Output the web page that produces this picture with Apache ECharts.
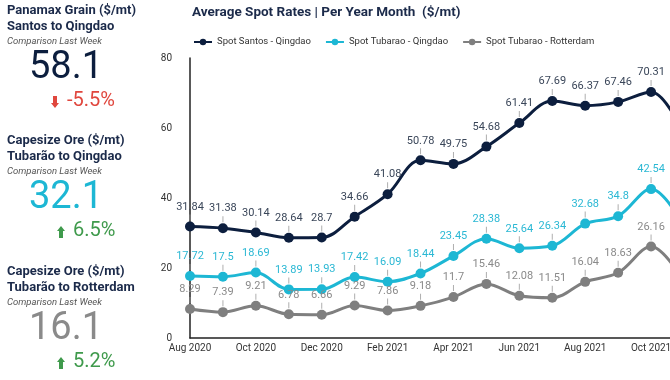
<!DOCTYPE html>
<html><head><meta charset="utf-8">
<script src="https://cdn.jsdelivr.net/npm/echarts@6/dist/echarts.min.js"></script>
<style>html,body{margin:0;padding:0;background:#fff}#c{width:670px;height:380px}</style>
</head><body><div id="c"></div>
<script>
const months = ['Aug 2020','Sep 2020','Oct 2020','Nov 2020','Dec 2020','Jan 2021','Feb 2021','Mar 2021','Apr 2021','May 2021','Jun 2021','Jul 2021','Aug 2021','Sep 2021','Oct 2021','Nov 2021'];
const santosQingdao = [31.84,31.38,30.14,28.64,28.7,34.66,41.08,50.78,49.75,54.68,61.41,67.69,66.37,67.46,70.31,58.1];
const tubaraoQingdao = [17.72,17.5,18.69,13.89,13.93,17.42,16.09,18.44,23.45,28.38,25.64,26.34,32.68,34.8,42.54,32.1];
const tubaraoRotterdam = [8.29,7.39,9.21,6.78,6.66,9.29,7.86,9.18,11.7,15.46,12.08,11.51,16.04,18.63,26.16,16.1];
const seriesNames = ['Spot Santos - Qingdao','Spot Tubarao - Qingdao','Spot Tubarao - Rotterdam'];
const cards = [
  {t1:'Panamax Grain ($/mt)', t2:'Santos to Qingdao', value:'58.1', change:'-5.5%', up:false},
  {t1:'Capesize Ore ($/mt)', t2:'Tubarão to Qingdao', value:'32.1', change:'6.5%', up:true},
  {t1:'Capesize Ore ($/mt)', t2:'Tubarão to Rotterdam', value:'16.1', change:'5.2%', up:true}
];
const yTicks = [0,20,40,60,80];

const lineColors = ['#0c1e3e','#1db7d4','#7f7f7f'];
const labelColors = ['#3a4659','#2bb8d4','#8a8a8a'];
const valueColors = ['#0c1e3e','#1db7d4','#8a8a8a'];
const datasets = [santosQingdao, tubaraoQingdao, tubaraoRotterdam];

const series = [];
datasets.forEach((d,i)=>{
  series.push({
    name: seriesNames[i], type:'line', data:d, smooth:0.35,
    symbol:'circle', symbolSize:10, showAllSymbol:true,
    lineStyle:{width:3,color:lineColors[i]},
    itemStyle:{color:lineColors[i]},
    label:{show:true,position:'top',distance:9,color:labelColors[i],fontSize:11,fontFamily:'Roboto'},
    z:3
  });
  series.push({
    type:'scatter', data:d, symbol:'rect', symbolSize:[1,6], symbolOffset:[0,-9],
    itemStyle:{color:'#9a9a9a'}, silent:true, z:2, tooltip:{show:false}
  });
});

const graphics = [];
const tops = [4,134,265];
cards.forEach((c,i)=>{
  const y0 = tops[i];
  graphics.push({type:'text',x:7,y:y0,style:{text:c.t1,font:'bold 13px Roboto',fill:'#1b2a4a'}});
  graphics.push({type:'text',x:7,y:y0+16,style:{text:c.t2,font:'bold 13px Roboto',fill:'#1b2a4a'}});
  graphics.push({type:'text',x:7,y:y0+33,style:{text:'Comparison Last Week',font:'italic 9.5px Roboto',fill:'#555'}});
  graphics.push({type:'text',x:29,y:y0+45,style:{text:c.value,font:'38px Roboto',fill:valueColors[i]}});
  const col = c.up ? '#3f9a4c' : '#e0473e';
  const cy = y0 + 98;
  const ax = c.up ? 61 : 55;
  const tx = c.up ? 73 : 67;
  if (c.up) {
    graphics.push({type:'polygon',shape:{points:[[ax-4,cy-1],[ax,cy-6],[ax+4,cy-1],[ax+2,cy-1],[ax+2,cy+6],[ax-2,cy+6],[ax-2,cy-1]]},style:{fill:col}});
  } else {
    graphics.push({type:'polygon',shape:{points:[[ax-4,cy+1],[ax,cy+6],[ax+4,cy+1],[ax+2,cy+1],[ax+2,cy-6],[ax-2,cy-6],[ax-2,cy+1]]},style:{fill:col}});
  }
  graphics.push({type:'text',x:tx,y:cy-11,style:{text:c.change,font:'20px Roboto',fill:col}});
});
graphics.push({type:'text',x:192,y:6,style:{text:'Average Spot Rates | Per Year Month  ($/mt)',font:'bold 13.5px Roboto',fill:'#1b2a4a'}});

const chart = echarts.init(document.getElementById('c'));
chart.setOption({
  animation:false,
  backgroundColor:'#fff',
  graphic:graphics,
  legend:{left:188,top:32,itemWidth:18,itemHeight:8,itemGap:14,
    textStyle:{fontSize:9.5,color:'#333',fontFamily:'Roboto'},
    data:seriesNames},
  grid:{left:190,width:494,top:58,height:280,containLabel:false,outerBoundsMode:'none'},
  xAxis:{type:'category',data:months,boundaryGap:false,
    axisLine:{lineStyle:{color:'#222',width:1.5}},axisTick:{show:false},
    axisLabel:{interval:1,fontSize:10,color:'#333',fontFamily:'Roboto',margin:5},
    splitLine:{show:false}},
  yAxis:{type:'value',min:0,max:80,interval:20,
    axisLine:{show:true,lineStyle:{color:'#222',width:1.5}},axisTick:{show:false},
    axisLabel:{fontSize:10,color:'#333',fontFamily:'Roboto',margin:18,
      formatter:v=>yTicks.includes(v)?String(v):''},
    splitLine:{show:false}},
  series:series
});
</script></body></html>
